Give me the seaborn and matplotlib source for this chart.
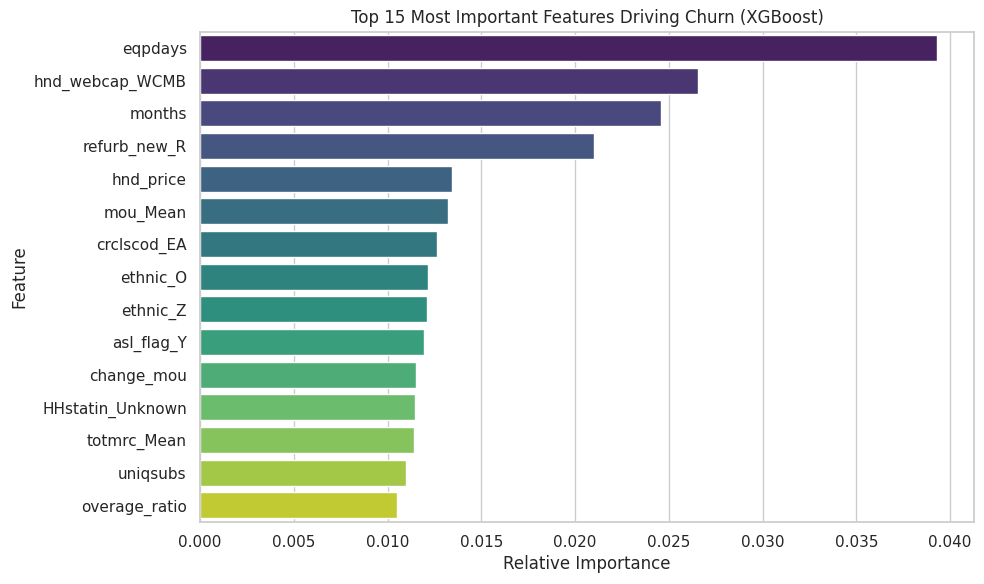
# Bibliotecas
import matplotlib
matplotlib.use("Agg")
import matplotlib.pyplot as plt
import seaborn as sns
import pandas as pd

# Importancia das features
features = ["eqpdays", "hnd_webcap_WCMB", "months", "refurb_new_R", "hnd_price",
            "mou_Mean", "crclscod_EA", "ethnic_O", "ethnic_Z", "asl_flag_Y",
            "change_mou", "HHstatin_Unknown", "totmrc_Mean", "uniqsubs", "overage_ratio"]
importancia = [0.03931, 0.02656, 0.02458, 0.02101, 0.01343,
               0.01321, 0.01263, 0.01215, 0.01210, 0.01194,
               0.01151, 0.01149, 0.01140, 0.01098, 0.01050]

df = pd.DataFrame({"Feature": features, "Importance": importancia})

sns.set_theme(style="whitegrid")

fig = plt.figure(figsize=(9.84, 5.84), dpi=100)
ax = sns.barplot(data=df, x="Importance", y="Feature", hue="Feature",
                 palette="viridis", legend=False)

ax.set_title("Top 15 Most Important Features Driving Churn (XGBoost)")
ax.set_xlabel("Relative Importance")
ax.set_ylabel("Feature")

plt.subplots_adjust(left=0.2033, right=0.9898, top=0.9457, bottom=0.1067)
plt.savefig("out.png", dpi=100)
